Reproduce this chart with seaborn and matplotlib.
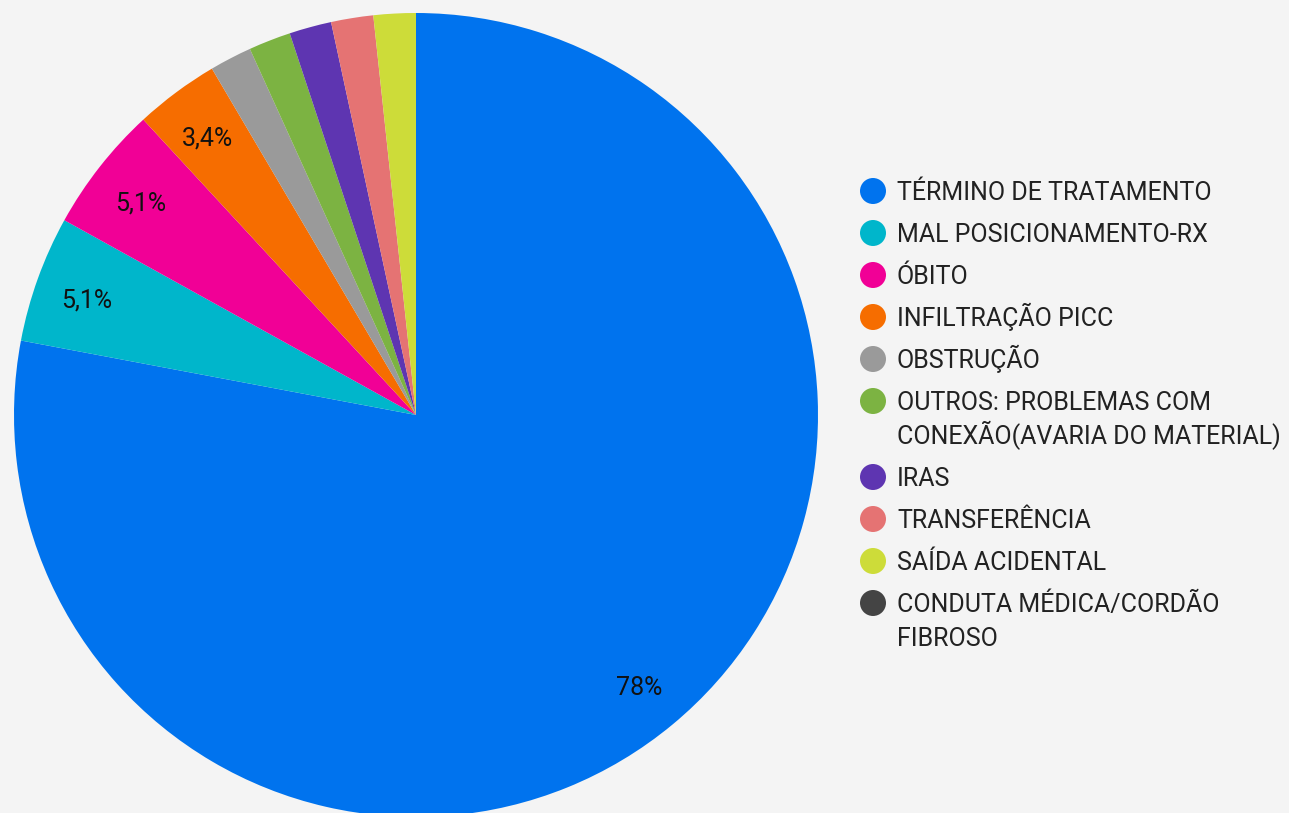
import seaborn as sns
import matplotlib.pyplot as plt
from matplotlib.patches import Circle

# Motivos de retirada do cateter
categorias = [
    'TÉRMINO DE TRATAMENTO',
    'MAL POSICIONAMENTO-RX',
    'ÓBITO',
    'INFILTRAÇÃO PICC',
    'OBSTRUÇÃO',
    'OUTROS: PROBLEMAS COM\nCONEXÃO(AVARIA DO MATERIAL)',
    'IRAS',
    'TRANSFERÊNCIA',
    'SAÍDA ACIDENTAL',
    'CONDUTA MÉDICA/CORDÃO\nFIBROSO',
]
contagens = [46, 3, 3, 2, 1, 1, 1, 1, 1, 0]
cores = ['#0073ee', '#00b6cb', '#f10096', '#f66d00', '#9a9a9a',
         '#7cb342', '#5e35b1', '#e57373', '#cddc39', '#444444']

sns.set_theme(style='white')
plt.rcParams['font.family'] = ['Roboto', 'DejaVu Sans']
palette = sns.color_palette(cores)

W, H = 1289, 813
fig = plt.figure(figsize=(W / 100, H / 100), dpi=100, facecolor='#f4f4f4')
ax = fig.add_axes([0, 0, 1, 1])
ax.set_facecolor('#f4f4f4')


def fmt_pct(p):
    if p < 3:
        return ''
    if p >= 10:
        return f'{p:.0f}%'
    return f'{p:.1f}%'.replace('.', ',')


cx, cy, r = 416, H - 415, 402
wedges, _, autotexts = ax.pie(
    contagens, colors=palette, startangle=90, counterclock=False,
    center=(cx, cy), radius=r, autopct=fmt_pct, pctdistance=0.87,
    wedgeprops=dict(linewidth=0), textprops=dict(fontsize=18, color='#111111'),
)
for t in autotexts:
    x0, y0 = t.get_position()
    t.set_position((x0, y0 - 4))
ax.set_xlim(0, W)
ax.set_ylim(0, H)
ax.set_aspect('equal')
ax.axis('off')

# legenda manual
y = 191
for nome, cor in zip(categorias, palette):
    ax.add_patch(Circle((873, H - y), 13, color=cor, lw=0))
    for i, linha in enumerate(nome.split('\n')):
        ax.text(897, H - y - 9 - 34 * i, linha, fontsize=18, color='#222222',
                va='baseline', ha='left')
    y += 42 + 34 * nome.count('\n')

fig.savefig('out.png', dpi=100, facecolor=fig.get_facecolor())
